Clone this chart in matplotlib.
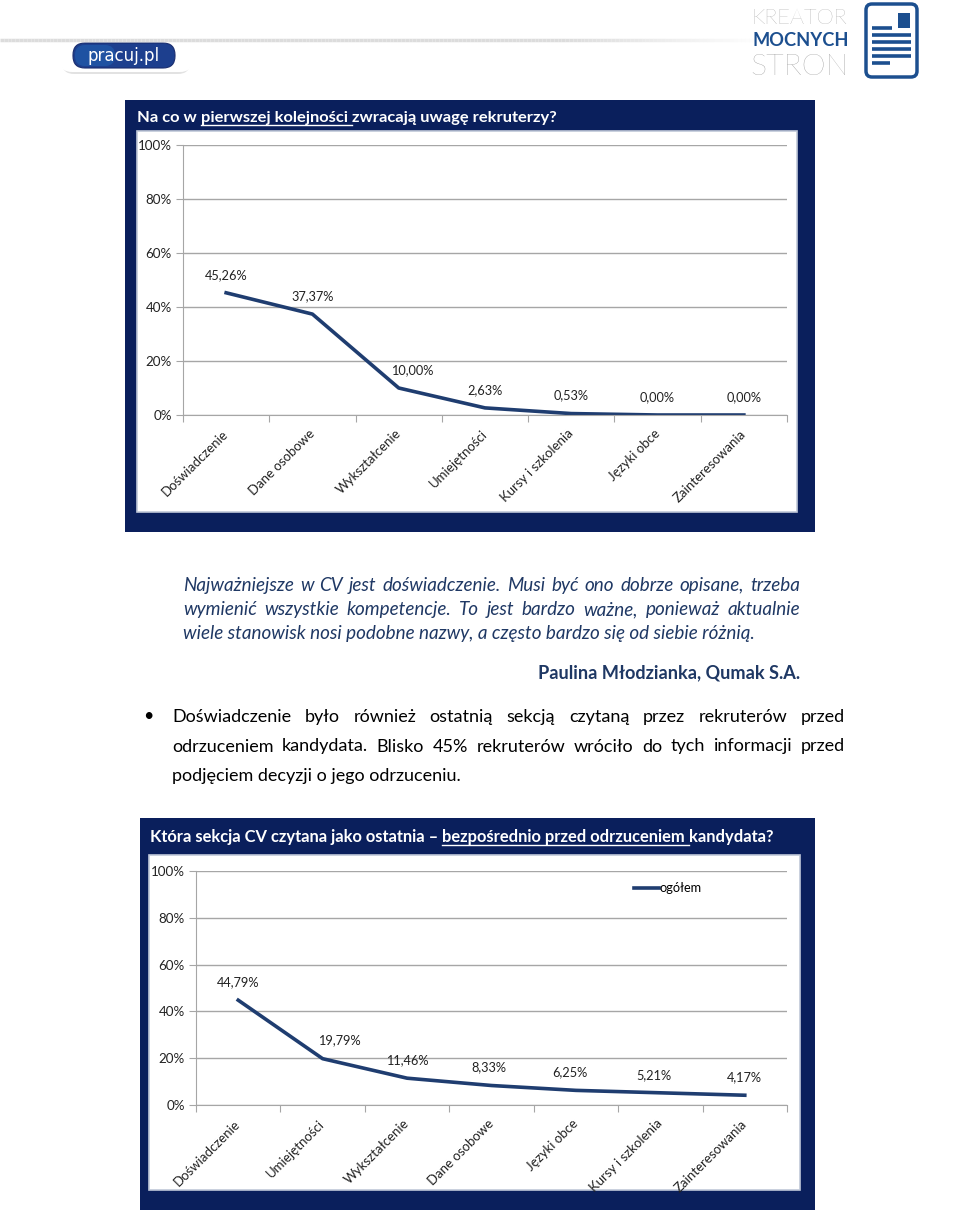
import numpy as np
import matplotlib
matplotlib.use('Agg')
import matplotlib.pyplot as plt
from matplotlib.patches import Rectangle, FancyBboxPatch

# --- data ---
first_cats = ['Doświadczenie', 'Dane osobowe', 'Wykształcenie', 'Umiejętności',
              'Kursy i szkolenia', 'Języki obce', 'Zainteresowania']
first_vals = [45.26, 37.37, 10.00, 2.63, 0.53, 0.00, 0.00]

last_cats = ['Doświadczenie', 'Umiejętności', 'Wykształcenie', 'Dane osobowe',
             'Języki obce', 'Kursy i szkolenia', 'Zainteresowania']
last_vals = [44.79, 19.79, 11.46, 8.33, 6.25, 5.21, 4.17]

y_ticks = [0, 20, 40, 60, 80, 100]
legend_label = 'ogółem'

title1 = [('Na co w ', False), ('pierwszej kolejności ', True),
          ('zwracają uwagę rekruterzy?', False)]
title2 = [('Która sekcja CV czytana jako ostatnia – ', False),
          ('bezpośrednio przed odrzuceniem ', True), ('kandydata?', False)]

quote_lines = ['Najważniejsze w CV jest doświadczenie. Musi być ono dobrze opisane, trzeba',
               'wymienić wszystkie kompetencje. To jest bardzo ważne, ponieważ aktualnie',
               'wiele stanowisk nosi podobne nazwy, a często bardzo się od siebie różnią.']
author = 'Paulina Młodzianka, Qumak S.A.'
para_lines = ['Doświadczenie było również ostatnią sekcją czytaną przez rekruterów przed',
              'odrzuceniem kandydata. Blisko 45% rekruterów wróciło do tych informacji przed',
              'podjęciem decyzji o jego odrzuceniu.']

# --- style ---
W, H = 960, 1214
NAVY = '#0a1f5c'
LINE = '#1f3d70'
GRID = '#a6a6a6'
QUOTE = '#1f3864'
plt.rcParams['font.family'] = ['Lato', 'DejaVu Sans']

fig = plt.figure(figsize=(W / 100, H / 100), dpi=100)
r = fig.canvas.get_renderer()
bg = fig.add_axes([0, 0, 1, 1], zorder=0)
bg.set_xlim(0, W)
bg.set_ylim(H, 0)
bg.axis('off')


def text_w(s, size, **kw):
    t = bg.text(0, 0, s, fontsize=size, **kw)
    w = t.get_window_extent(r).width
    t.remove()
    return w


def fit(s, target, **kw):
    return 10 * target / text_w(s, 10, **kw)


def prefix_w(s, size, **kw):
    return text_w(s + '|', size, **kw) - text_w('|', size, **kw)


def justify(line, x0, x1, y, size, **kw):
    words = line.split()
    ws = [text_w(w, size, **kw) for w in words]
    gap = (x1 - x0 - sum(ws)) / (len(words) - 1)
    x = x0
    for w, wd in zip(words, ws):
        bg.text(x, y, w, fontsize=size, va='baseline', **kw)
        x += wd + gap


def title(parts, x0, x1, y):
    full = ''.join(p for p, _ in parts)
    size = fit(full, x1 - x0, weight='bold')
    x = x0
    for p, u in parts:
        bg.text(x, y, p, fontsize=size, weight='bold', color='white', va='baseline')
        w = prefix_w(p, size, weight='bold')
        if u:
            bg.plot([x, x + w], [y + 3, y + 3], color='white', lw=1)
        x += w


def chart(box, cats, vals, dx, legend=False):
    l, t, rr, b = box
    ax = fig.add_axes([l / W, 1 - b / H, (rr - l) / W, (b - t) / H], zorder=2)
    x = np.arange(len(cats)) + 0.5
    ax.plot(x, vals, color=LINE, lw=2.6, label=legend_label)
    ax.set_xlim(0, len(cats))
    ax.set_ylim(0, 100)
    ax.set_facecolor('none')
    ysize = fit('100%', 34)
    ax.set_yticks(y_ticks)
    ax.set_yticklabels([f'{v}%' for v in y_ticks], fontsize=ysize, color='#222222')
    ax.yaxis.grid(True, color=GRID, lw=1)
    ax.set_axisbelow(True)
    ax.set_xticks(np.arange(len(cats) + 1))
    ax.set_xticklabels([])
    ax.set_xticks(x, minor=True)
    tsize = fit('Doświadczenie', 88)
    ax.set_xticklabels(cats, minor=True, fontsize=tsize, color='#222222')
    for lab in ax.get_xticklabels(minor=True):
        lab.set_rotation(45)
        lab.set_ha('right')
        lab.set_va('center')
        lab.set_rotation_mode('anchor')
    ax.tick_params(axis='x', which='minor', length=0, pad=12)
    ax.tick_params(axis='x', which='major', length=5, color=GRID)
    ax.tick_params(axis='y', length=5, color=GRID, pad=3)
    for s in ['top', 'right']:
        ax.spines[s].set_visible(False)
    for s in ['left', 'bottom']:
        ax.spines[s].set_color(GRID)
    lsize = fit('45,26%', 43)
    for xi, v, d in zip(x, vals, dx):
        ax.annotate(f'{v:.2f}%'.replace('.', ','), (xi, v), xytext=(d, 13),
                    textcoords='offset points', ha='center', va='center',
                    fontsize=lsize, color='#222222')
    if legend:
        ax.legend(loc='center left', bbox_to_anchor=(628 / W, 1 - 888 / H),
                  bbox_transform=fig.transFigure, frameon=False, handlelength=1.9,
                  handletextpad=0.05, borderpad=0, fontsize=lsize)
    return ax


# --- header ---
xs = np.linspace(0, 760, 200)
for i in range(len(xs) - 1):
    a = 1.0 if xs[i] < 560 else max(0, 1 - (xs[i] - 560) / 200)
    bg.plot(xs[i:i + 2], [40, 40], color='#dcdcdc', lw=2.5, alpha=a, solid_capstyle='butt')
bg.add_patch(FancyBboxPatch((62, 42), 128, 32, boxstyle='round,pad=0,rounding_size=12',
                            fc='#e2e2e2', ec='none'))
bg.add_patch(FancyBboxPatch((60, 36), 132, 36, boxstyle='round,pad=0,rounding_size=12',
                            fc='white', ec='none'))
bg.add_patch(FancyBboxPatch((73, 43), 102, 25, boxstyle='round,pad=0,rounding_size=12',
                            fc='#1d3f8e', ec='#1a2d6e', lw=0.8))
bg.add_patch(FancyBboxPatch((75, 45), 40, 21, boxstyle='round,pad=0,rounding_size=10',
                            fc='#2160b0', ec='none', alpha=0.6))
bg.text(124, 56, 'pracuj.pl', color='white', fontsize=12, family='DejaVu Sans',
        ha='center', va='center')

bg.text(752, 24, 'KREATOR', color='#8c8c8c', weight='light',
        fontsize=fit('KREATOR', 96, weight='light'), va='baseline')
bg.text(752, 46, 'MOCNYCH', color='#1c4f8f', weight='bold',
        fontsize=fit('MOCNYCH', 96, weight='bold'), va='baseline')
bg.text(750, 75, 'STRON', color='#8c8c8c', weight='light',
        fontsize=fit('STRON', 98, weight='light'), va='baseline')
bg.add_patch(FancyBboxPatch((866, 4), 51, 73, boxstyle='round,pad=0,rounding_size=6',
                            fc='white', ec='#1c4f8f', lw=2.5))
bg.add_patch(Rectangle((898, 13), 12, 15, fc='#1c4f8f', ec='none'))
for y0, x1 in [(28, 892), (35, 911), (42, 911), (49, 911), (56, 911), (63, 890)]:
    bg.plot([872, x1], [y0, y0], color='#1c4f8f', lw=2.6, solid_capstyle='butt')

# --- chart 1 ---
bg.add_patch(Rectangle((125, 100), 690, 432, fc=NAVY, ec='none'))
bg.add_patch(Rectangle((137, 131), 660, 381, fc='white', ec='#c0c8d8', lw=1.2))
title(title1, 137, 557, 122)
chart((183, 145, 787, 415), first_cats, first_vals, [0, 0, 10, 0, 0, 0, 0])

# --- text ---
qsize = fit(quote_lines[2], 574, style='italic')
for i, line in enumerate(quote_lines):
    y = 591 + 24 * i
    if i < len(quote_lines) - 1:
        justify(line, 183, 800, y, qsize, style='italic', color=QUOTE)
    else:
        bg.text(183, y, line, fontsize=qsize, style='italic', color=QUOTE, va='baseline')
bg.text(800, 678, author, fontsize=fit(author, 261, weight='bold'), weight='bold',
        color=QUOTE, ha='right', va='baseline')

psize = fit(para_lines[2], 290)
bg.text(148, 716, '•', fontsize=psize, color='black', ha='center', va='center')
for i, line in enumerate(para_lines):
    y = 722 + 29.5 * i
    if i < len(para_lines) - 1:
        justify(line, 172, 845, y, psize, color='black')
    else:
        bg.text(172, y, line, fontsize=psize, color='black', va='baseline')

# --- chart 2 ---
bg.add_patch(Rectangle((140, 818), 675, 392, fc=NAVY, ec='none'))
bg.add_patch(Rectangle((149, 855), 651, 335, fc='white', ec='#c0c8d8', lw=1.2))
title(title2, 150, 776, 842)
chart((196, 871, 787, 1105), last_cats, last_vals, [0, 12, 0, -2, -4, -5, 0], legend=True)

fig.savefig('out.png', dpi=100)
